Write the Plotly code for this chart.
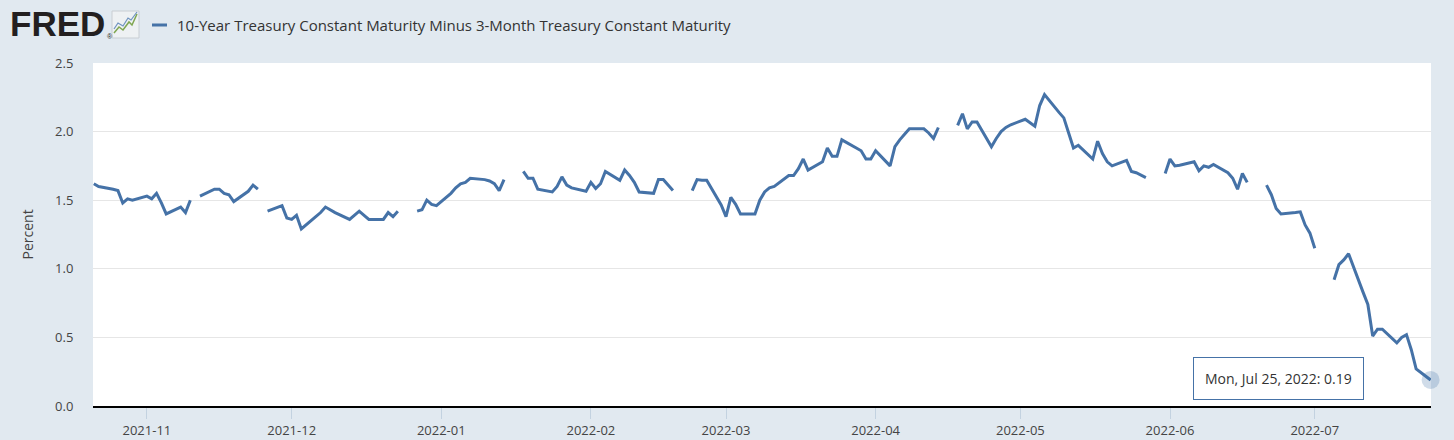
import pandas as pd
import plotly.graph_objects as go

# ---------------- data (T10Y3M, percent; None = market holiday) ----------------
oct_2021 = [1.62, 1.60, 1.58, 1.57, 1.48, 1.51, 1.50]
nov_2021 = [1.53, 1.51, 1.55, 1.48, 1.40, 1.45, 1.41, 1.50, None, 1.53, 1.58,
            1.58, 1.55, 1.54, 1.49, 1.565, 1.61, 1.58, None, 1.42, 1.46, 1.37]
dec_2021 = [1.36, 1.39, 1.29, 1.38, 1.41, 1.45, 1.43, 1.41, 1.36, 1.39, 1.42,
            1.39, 1.36, 1.36, 1.41, 1.38, 1.42, None, 1.42, 1.43, 1.50, 1.47, 1.46]
jan_2022 = [1.55, 1.59, 1.62, 1.63, 1.66, 1.65, 1.64, 1.62, 1.57, 1.65, None,
            1.71, 1.66, 1.66, 1.58, 1.56, 1.60, 1.67, 1.61, 1.59, 1.565]
feb_2022 = [1.63, 1.585, 1.62, 1.71, 1.645, 1.72, 1.68, 1.63, 1.56, 1.55, 1.65,
            1.65, 1.61, 1.57, None, 1.57, 1.65, 1.645, 1.645, 1.465]
mar_2022 = [1.38, 1.52, 1.47, 1.40, 1.40, 1.50, 1.56, 1.59, 1.60, 1.68, 1.68,
            1.73, 1.80, 1.72, 1.78, 1.88, 1.82, 1.82, 1.94, 1.88, 1.86, 1.80, 1.80]
apr_2022 = [1.86, 1.75, 1.89, 1.94, 1.98, 2.02, 2.02, 1.99, 1.95, 2.03, None,
            2.045, 2.13, 2.02, 2.07, 2.07, 1.89, 1.95, 2.00, 2.03, 2.05]
may_2022 = [2.09, 2.065, 2.04, 2.19, 2.27, 2.14, 2.10, 1.99, 1.88, 1.90, 1.80,
            1.93, 1.84, 1.78, 1.75, 1.79, 1.71, 1.70, 1.685, 1.665, None, 1.695]
jun_2022 = [1.80, 1.75, 1.755, 1.78, 1.715, 1.75, 1.74, 1.76, 1.70, 1.66, 1.58,
            1.695, 1.63, None, 1.61, 1.54, 1.44, 1.40, 1.41, 1.415, 1.32, 1.26]
jul_2022 = [1.15, None, 0.92, 1.03, 1.065, 1.11, 0.83, 0.74, 0.51, 0.56, 0.56,
            0.46, 0.50, 0.52, 0.41, 0.27, 0.19]

month_spans = [
    ("2021-10-21", "2021-10-31", oct_2021),
    ("2021-11-01", "2021-11-30", nov_2021),
    ("2021-12-01", "2021-12-31", dec_2021),
    ("2022-01-01", "2022-01-31", jan_2022),
    ("2022-02-01", "2022-02-28", feb_2022),
    ("2022-03-01", "2022-03-31", mar_2022),
    ("2022-04-01", "2022-04-30", apr_2022),
    ("2022-05-01", "2022-05-31", may_2022),
    ("2022-06-01", "2022-06-30", jun_2022),
    ("2022-07-01", "2022-07-25", jul_2022),
]

series_name = "10-Year Treasury Constant Maturity Minus 3-Month Treasury Constant Maturity"
y_title = "Percent"
tooltip_text = "Mon, Jul 25, 2022: 0.19"

dates, values = [], []
for start, end, vals in month_spans:
    d = pd.bdate_range(start, end)
    assert len(d) == len(vals), (start, len(d), len(vals))
    dates.extend(d)
    values.extend(vals)

# ---------------- layout helpers ----------------
W, H = 1454, 440
ML, MR, MT, MB = 93, 23, 63, 34
PW, PH = W - ML - MR, H - MT - MB


def px(xp):
    return (xp - ML) / PW


def py(yp):
    return (H - MB - yp) / PH


BLUE = "#4572A7"
BG = "#e1e9f0"

fig = go.Figure()
fig.add_trace(go.Scatter(
    x=dates, y=values, mode="lines", connectgaps=False,
    line=dict(color=BLUE, width=3), hoverinfo="skip", showlegend=False))
fig.add_trace(go.Scatter(
    x=[dates[-1]], y=[values[-1]], mode="markers",
    marker=dict(size=18, color="rgba(69,114,167,0.25)", line=dict(width=0)),
    hoverinfo="skip", showlegend=False, cliponaxis=False))

fig.update_layout(
    width=W, height=H,
    margin=dict(l=ML, r=MR, t=MT, b=MB, autoexpand=False),
    paper_bgcolor=BG, plot_bgcolor="#ffffff",
    font=dict(family="Open Sans", size=13, color="#333333"),
    showlegend=False,
)
fig.update_xaxes(
    type="date", range=["2021-10-20 20:00", "2022-07-25 02:00"],
    tickformat="%Y-%m", dtick="M1", tick0="2021-11-01",
    ticks="outside", ticklen=11, tickwidth=1, tickcolor="#c3d2e0",
    showgrid=False, zeroline=False, automargin=False,
    showline=True, linecolor="#000000", linewidth=2,
    tickfont=dict(family="Open Sans", size=13, color="#444444"),
)
fig.update_yaxes(
    range=[0, 2.5], dtick=0.5, tick0=0, tickformat=".1f",
    showgrid=True, gridcolor="#e6e6e6", gridwidth=1, zeroline=False,
    automargin=False,
    ticks="outside", ticklen=16, tickcolor="rgba(0,0,0,0)",
    tickfont=dict(family="Open Sans", size=13, color="#444444"),
)

annotations = [
    dict(text=y_title, x=px(27), y=0.5, xref="paper", yref="paper",
         textangle=-90, showarrow=False, xanchor="center", yanchor="middle",
         font=dict(family="Open Sans", size=14, color="#444444")),
    dict(text="<b>FRED</b>", x=px(8), y=py(24), xref="paper", yref="paper",
         showarrow=False, xanchor="left", yanchor="middle",
         font=dict(family="Liberation Sans", size=35, color="#231f20")),
    dict(text="®", x=px(105), y=py(36), xref="paper", yref="paper",
         showarrow=False, xanchor="left", yanchor="middle",
         font=dict(family="Liberation Sans", size=7, color="#231f20")),
    dict(text=series_name, x=px(175), y=py(25), xref="paper", yref="paper",
         showarrow=False, xanchor="left", yanchor="middle",
         font=dict(family="Open Sans", size=15, color="#333333")),
    dict(text=tooltip_text, x=px(1193), y=py(357), xref="paper", yref="paper",
         showarrow=False, xanchor="left", yanchor="top",
         bgcolor="rgba(255,255,255,0.92)", bordercolor=BLUE, borderwidth=1,
         borderpad=11, font=dict(family="Open Sans", size=14, color="#333333")),
]

shapes = [
    # legend swatch
    dict(type="line", xref="paper", yref="paper", x0=px(152), x1=px(167),
         y0=py(25), y1=py(25), line=dict(color=BLUE, width=3)),
    # FRED icon
    dict(type="rect", xref="paper", yref="paper", x0=px(112), x1=px(139),
         y0=py(38), y1=py(11), fillcolor="#eef1f3",
         line=dict(color="#c9ced3", width=1)),
    dict(type="path", xref="paper", yref="paper",
         path=f"M {px(114)} {py(33)} L {px(119)} {py(27)} L {px(123)} {py(30)} "
              f"L {px(129)} {py(22)} L {px(132)} {py(25)} L {px(137)} {py(14)}",
         line=dict(color="#7fa650", width=1.5)),
    dict(type="path", xref="paper", yref="paper",
         path=f"M {px(114)} {py(29)} L {px(118)} {py(23)} L {px(123)} {py(26)} "
              f"L {px(128)} {py(18)} L {px(131)} {py(20)} L {px(137)} {py(12)}",
         line=dict(color="#6f93bf", width=1.2)),
]

fig.update_layout(annotations=annotations, shapes=shapes)
fig.write_html(
    "out.html",
    config={"displayModeBar": False},
    post_script="document.body.style.margin='0';"
                "document.body.style.background='#e1e9f0';",
)
